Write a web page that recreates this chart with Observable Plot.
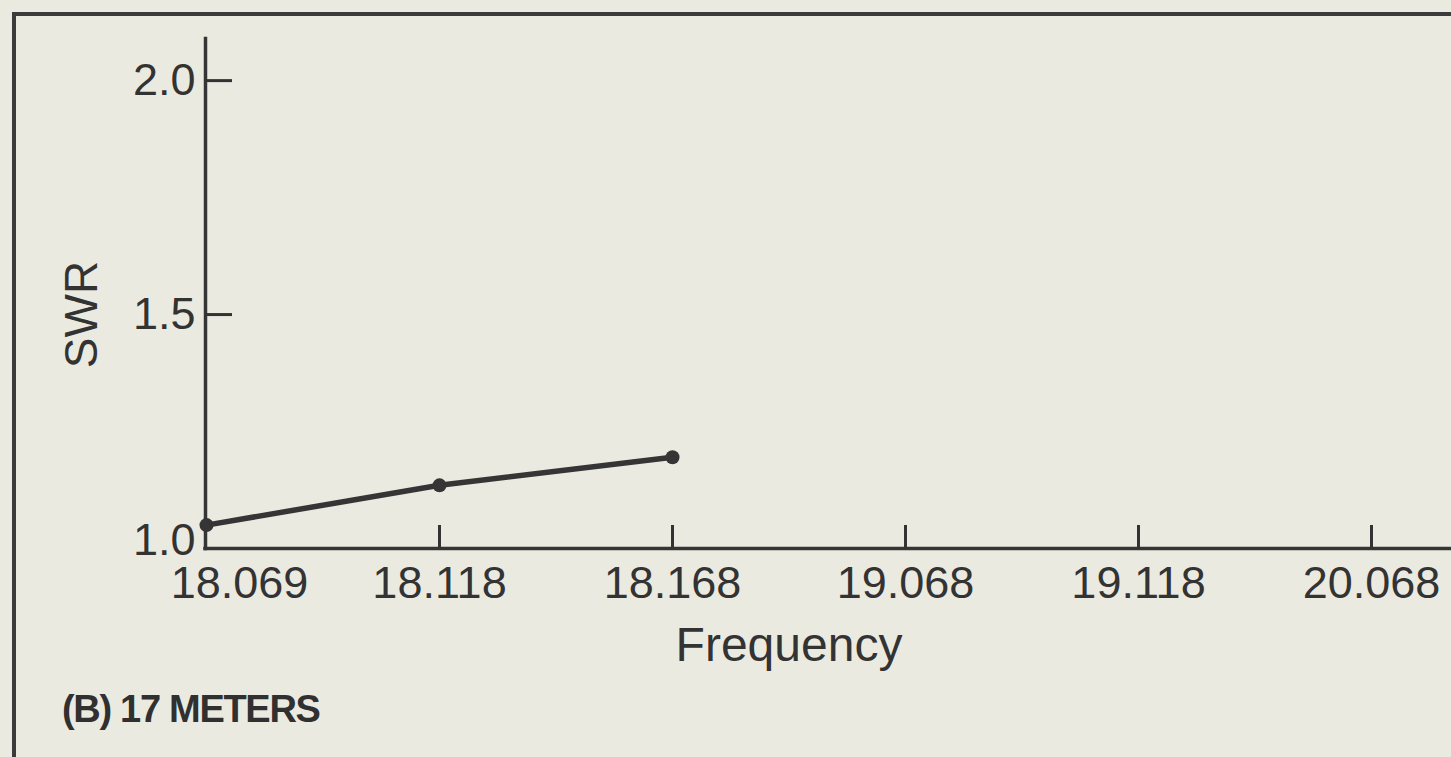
<!DOCTYPE html>
<html><head><meta charset="utf-8">
<script src="https://cdn.jsdelivr.net/npm/d3@7"></script>
<script src="https://cdn.jsdelivr.net/npm/@observablehq/plot@0.6"></script>
<style>
html,body{margin:0;padding:0;background:#ebeae1;width:1451px;height:757px;overflow:hidden;}
#frame{position:absolute;left:12px;top:12px;width:1500px;height:800px;border-top:4px solid #3b3b3b;border-left:4px solid #3b3b3b;}
#chart{position:absolute;left:0;top:0;}
#caption{position:absolute;left:62px;top:690px;font:bold 38px "Liberation Sans",Arial,sans-serif;letter-spacing:-1.3px;color:#303030;line-height:1;white-space:nowrap;}
</style></head><body>
<div id="chart"></div>
<div id="frame"></div>
<div id="caption"></div>
<script>
const frequencies = ["18.069","18.118","18.168","19.068","19.118","20.068"];
const measuredFreqs = ["18.069","18.118","18.168"];
const swrValues = [1.05, 1.135, 1.195];
const yTicks = [1.0, 1.5, 2.0];
const yTickLabels = ["1.0","1.5","2.0"];
const yDomain = [1.0, 2.09];
const xLabel = "Frequency";
const yLabel = "SWR";
const captionText = "(B) 17 METERS";

const data = measuredFreqs.map((f, i) => ({freq: f, swr: swrValues[i]}));
const ink = "#353535";
const txt = "#333333";
const font = "'Liberation Sans', Arial, Helvetica, sans-serif";
const fmtY = d => yTickLabels[yTicks.indexOf(d)];

const chart = Plot.plot({
  width: 1451, height: 690,
  marginTop: 38, marginBottom: 142, marginLeft: 205, marginRight: 79,
  style: {background: "transparent", fontFamily: font, color: txt},
  x: {type: "point", domain: frequencies, padding: 0},
  y: {domain: yDomain},
  marks: [
    Plot.frame({anchor: "left", stroke: ink, strokeWidth: 3.5}),
    Plot.ruleY([yDomain[0]], {stroke: ink, strokeWidth: 3.5, insetRight: -80, insetLeft: -1.75}),
    Plot.axisX(frequencies.slice(1), {tickSize: -23, tickPadding: 41, fontSize: 45, color: txt, strokeWidth: 3, label: null}),
    Plot.axisX([frequencies[0]], {tickSize: 0, tickPadding: 18, dx: 33, fontSize: 45, color: txt, label: null}),
    Plot.axisX([], {tickSize: 0, label: xLabel, labelAnchor: "center", labelArrow: "none", labelOffset: 112, fontSize: 48, color: txt}),
    Plot.axisY(yTicks.slice(1), {tickSize: -27, tickPadding: 37, fontSize: 45, tickFormat: fmtY, color: txt, strokeWidth: 3, label: null}),
    Plot.axisY([yTicks[0]], {tickSize: 0, tickPadding: 10, dy: -8, fontSize: 45, tickFormat: fmtY, color: txt, label: null}),
    Plot.text([yLabel], {text: d => d, y: () => yTicks[1], frameAnchor: "left", dx: -123, rotate: -90, fontSize: 46, lineAnchor: "middle", textAnchor: "middle", fill: txt}),
    Plot.line(data, {x: "freq", y: "swr", stroke: ink, strokeWidth: 5.5}),
    Plot.dot(data, {x: "freq", y: "swr", r: 7, fill: ink})
  ]
});
document.getElementById("chart").appendChild(chart);
document.getElementById("caption").textContent = captionText;
</script>
</body></html>
